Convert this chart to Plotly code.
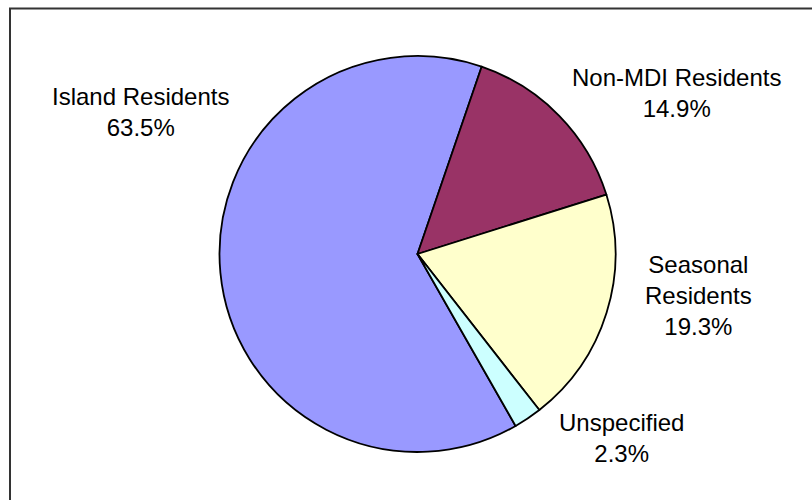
import plotly.graph_objects as go

categories = ["Island Residents", "Non-MDI Residents", "Seasonal Residents", "Unspecified"]
values = [63.5, 14.9, 19.3, 2.3]
colors = ["#9999FF", "#993366", "#FFFFCC", "#CCFFFF"]

# label display (line-wrapped) and positions (paper coords)
label_lines = ["Island Residents", "Non-MDI Residents", "Seasonal<br>Residents", "Unspecified"]
label_pos = [(140.5 / 812, 1 - 112 / 500), (676.5 / 812, 1 - 93 / 500),
             (698 / 812, 1 - 295.5 / 500), (621 / 812, 1 - 437.5 / 500)]

W, H = 812, 500
cx, cy, r = 417.5, 254, 198

fig = go.Figure()
fig.add_trace(go.Pie(
    labels=categories,
    values=values,
    sort=False,
    direction="clockwise",
    rotation=150.3,
    marker=dict(colors=colors, line=dict(color="#000000", width=1.8)),
    textinfo="none",
    hoverinfo="label+percent",
    showlegend=False,
    domain=dict(x=[(cx - r) / W, (cx + r) / W], y=[1 - (cy + r) / H, 1 - (cy - r) / H]),
))

total = sum(values)
for lab, v, (px, py) in zip(label_lines, values, label_pos):
    fig.add_annotation(
        x=px, y=py, xref="paper", yref="paper",
        text=f"{lab}<br>{v / total * 100:.1f}%",
        showarrow=False, xanchor="center", yanchor="middle", align="center",
        font=dict(family="Liberation Sans, Arial, sans-serif", size=24, color="#000000"),
    )

# chart frame
fig.add_shape(type="line", xref="paper", yref="paper",
              x0=10 / W, x1=10 / W, y0=0, y1=1 - 8 / H, line=dict(color="#333333", width=2))
fig.add_shape(type="line", xref="paper", yref="paper",
              x0=9 / W, x1=1, y0=1 - 8.5 / H, y1=1 - 8.5 / H, line=dict(color="#333333", width=2))

fig.update_layout(
    width=W, height=H,
    margin=dict(l=0, r=0, t=0, b=0),
    paper_bgcolor="#FFFFFF",
    plot_bgcolor="#FFFFFF",
)

fig.write_html("out.html")
